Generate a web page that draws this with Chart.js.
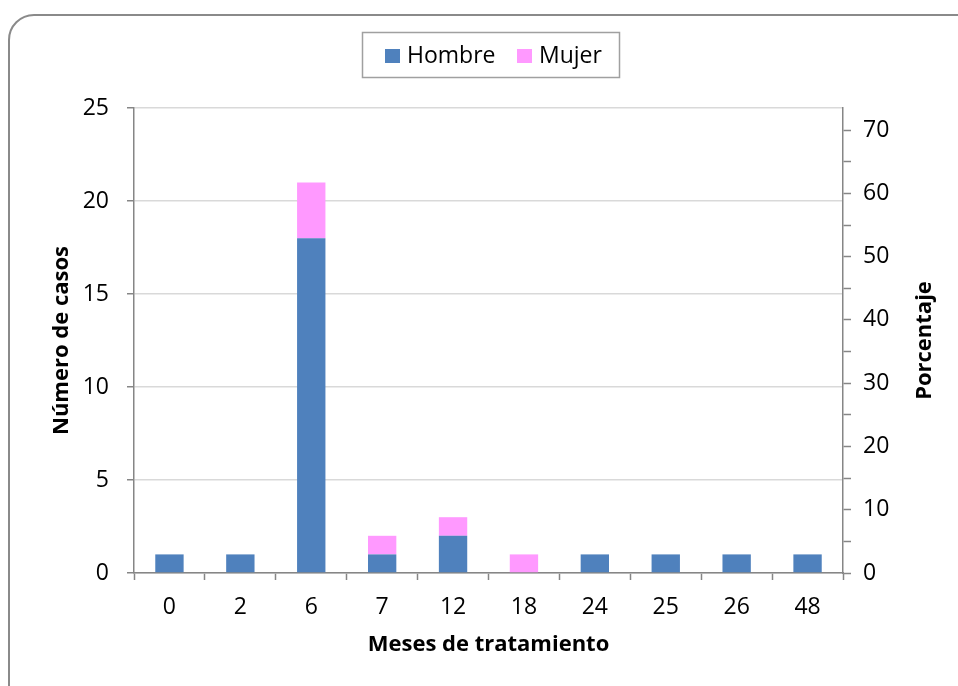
<!DOCTYPE html>
<html>
<head>
<meta charset="utf-8">
<script src="https://cdn.jsdelivr.net/npm/chart.js@4/dist/chart.umd.min.js"></script>
<style>
  html, body { margin:0; padding:0; width:958px; height:686px; overflow:hidden; background:#fff; }
  #frame { position:absolute; left:8px; top:14px; width:1000px; height:1000px; border:2px solid #8a8a8a; border-radius:26px; box-sizing:border-box; }
  #wrap { position:absolute; left:0; top:0; width:958px; height:686px; }
</style>
</head>
<body>
<div id="frame"></div>
<div id="wrap"><canvas id="c" width="958" height="686"></canvas></div>
<script>
const categories = ['0', '2', '6', '7', '12', '18', '24', '25', '26', '48'];
const hombre = [1, 1, 18, 1, 2, 0, 1, 1, 1, 1];
const mujer  = [0, 0, 3, 1, 1, 1, 0, 0, 0, 0];
const seriesNames = ['Hombre', 'Mujer'];
const leftTicks = [0, 5, 10, 15, 20, 25];
const rightTicks = [0, 10, 20, 30, 40, 50, 60, 70];
const rightMax = 73.5;

const FONT = "'Open Sans', 'Liberation Sans', sans-serif";
const BLUE = '#4F81BD';
const PINK = '#FF99FF';
const AXIS = '#868686';

const titlesPlugin = {
  id: 'titles',
  afterDraw(chart) {
    const ctx = chart.ctx;
    const ca = chart.chartArea;
    ctx.save();
    ctx.fillStyle = '#000';
    ctx.font = "bold 22px " + FONT;
    ctx.textAlign = 'center';
    ctx.textBaseline = 'middle';
    ctx.fillText('Meses de tratamiento', (ca.left + ca.right) / 2, 645);
    ctx.save();
    ctx.translate(62, (ca.top + ca.bottom) / 2);
    ctx.rotate(-Math.PI / 2);
    ctx.fillText('Número de casos', 0, 0);
    ctx.restore();
    ctx.save();
    ctx.translate(925, (ca.top + ca.bottom) / 2);
    ctx.rotate(-Math.PI / 2);
    ctx.fillText('Porcentaje', 0, 0);
    ctx.restore();

    ctx.strokeStyle = '#A0A0A0';
    ctx.lineWidth = 1.5;
    ctx.strokeRect(362.5, 32.5, 257, 45);
    ctx.font = "23px " + FONT;
    ctx.textAlign = 'left';
    const items = [
      { name: seriesNames[0], color: BLUE, sx: 385, tx: 407 },
      { name: seriesNames[1], color: PINK, sx: 517, tx: 539 }
    ];
    items.forEach(it => {
      ctx.fillStyle = it.color;
      ctx.fillRect(it.sx, 49, 15, 14);
      ctx.fillStyle = '#000';
      ctx.fillText(it.name, it.tx, 56);
    });
    ctx.restore();
  }
};

new Chart(document.getElementById('c'), {
  type: 'bar',
  data: {
    labels: categories,
    datasets: [
      { label: seriesNames[0], data: hombre, backgroundColor: BLUE, yAxisID: 'y', stack: 's',
        categoryPercentage: 1, barPercentage: 0.4 },
      { label: seriesNames[1], data: mujer, backgroundColor: PINK, yAxisID: 'y', stack: 's',
        categoryPercentage: 1, barPercentage: 0.4 }
    ]
  },
  options: {
    responsive: false,
    animation: false,
    layout: { padding: { top: 108, left: 0, right: 0, bottom: 0 } },
    plugins: { legend: { display: false }, tooltip: { enabled: false } },
    scales: {
      x: {
        stacked: true,
        grid: { offset: true, drawOnChartArea: false, tickLength: 7, tickColor: AXIS, tickWidth: 1.5 },
        border: { color: AXIS, width: 1.5 },
        ticks: { color: '#000', font: { family: FONT, size: 23 }, padding: 14, maxRotation: 0 },
        afterFit(s) { s.height = 686 - 573; }
      },
      y: {
        position: 'left',
        stacked: true,
        min: 0, max: 25,
        afterBuildTicks(s) { s.ticks = leftTicks.map(v => ({ value: v })); },
        grid: { color: '#D9D9D9', lineWidth: 1.5, tickLength: 7, tickColor: AXIS, tickWidth: 1.5 },
        border: { color: AXIS, width: 1.5 },
        ticks: { color: '#000', font: { family: FONT, size: 23 }, padding: 18 },
        afterFit(s) { s.width = 134; }
      },
      y1: {
        position: 'right',
        min: 0, max: rightMax,
        afterBuildTicks(s) {
          const t = [];
          for (let v = 0; v <= 70; v += 5) t.push({ value: v });
          s.ticks = t;
        },
        grid: { drawOnChartArea: false, tickLength: 8, tickColor: AXIS, tickWidth: 1.5 },
        border: { color: AXIS, width: 1.5 },
        ticks: {
          color: '#000', font: { family: FONT, size: 23 }, padding: 12,
          callback(v) { return rightTicks.includes(v) ? String(v) : ''; }
        },
        afterFit(s) { s.width = 958 - 843; }
      }
    }
  },
  plugins: [titlesPlugin]
});
</script>
</body>
</html>
